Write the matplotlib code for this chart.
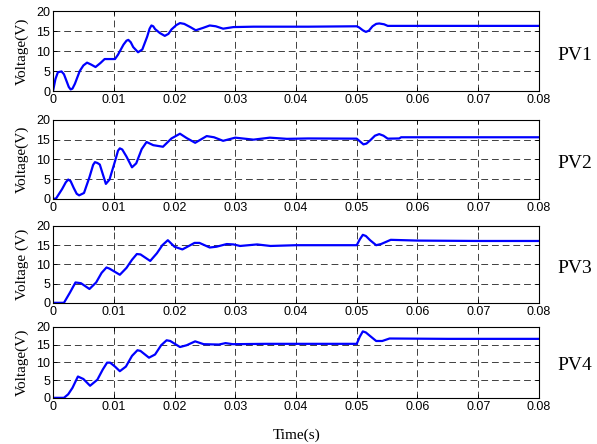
import matplotlib
matplotlib.use("Agg")
import matplotlib.pyplot as plt

# voltage waveforms (time in s, voltage in V)
pv1_t = [0, 0.0004, 0.0008, 0.0014, 0.0018, 0.0022, 0.0026, 0.0029, 0.0032, 0.0036, 0.0044,
         0.0050, 0.0056, 0.0063, 0.0070, 0.0078, 0.0085, 0.0102, 0.0107, 0.0116, 0.0121,
         0.0124, 0.0128, 0.0132, 0.0140, 0.0147, 0.0155, 0.0159, 0.0162, 0.0165, 0.0168,
         0.0176, 0.0184, 0.0190, 0.0195, 0.0203, 0.0209, 0.0216, 0.0226, 0.0235, 0.0247,
         0.0258, 0.0268, 0.0280, 0.0297, 0.0330, 0.0370, 0.0420, 0.0500, 0.0504, 0.0510,
         0.0515, 0.0520, 0.0526, 0.0532, 0.0537, 0.0545, 0.0551, 0.0600, 0.0700, 0.0800]
pv1_v = [0, 3.0, 4.7, 4.9, 4.2, 2.6, 1.0, 0.4, 0.6, 1.8, 5.0,
         6.4, 7.1, 6.6, 6.0, 7.0, 8.0, 8.0, 9.1, 11.6, 12.6,
         12.8, 12.2, 11.0, 9.7, 10.4, 13.6, 15.6, 16.4, 16.2, 15.5,
         14.5, 13.8, 14.3, 15.4, 16.5, 17.0, 16.8, 16.0, 15.2, 15.8,
         16.4, 16.2, 15.6, 16.0, 16.1, 16.1, 16.1, 16.2, 15.9, 15.2,
         14.8, 15.1, 16.2, 16.8, 16.9, 16.7, 16.3, 16.3, 16.3, 16.3]

pv2_t = [0, 0.0005, 0.0015, 0.0021, 0.0025, 0.0029, 0.0034, 0.0039, 0.0043, 0.0051,
         0.0060, 0.0066, 0.0069, 0.0073, 0.0077, 0.0087, 0.0093, 0.0102, 0.0107, 0.0110,
         0.0114, 0.0121, 0.0130, 0.0137, 0.0146, 0.0154, 0.0165, 0.0181, 0.0195, 0.0209,
         0.0220, 0.0234, 0.0253, 0.0265, 0.0280, 0.0300, 0.0330, 0.0357, 0.0385, 0.0420,
         0.0500, 0.0505, 0.0511, 0.0516, 0.0522, 0.0530, 0.0537, 0.0544, 0.0551, 0.0570,
         0.0573, 0.0650, 0.0800]
pv2_v = [0, 0.1, 2.5, 4.2, 4.9, 4.5, 2.8, 1.3, 0.9, 1.5,
         5.5, 8.6, 9.3, 9.1, 8.7, 3.8, 4.9, 9.5, 12.2, 12.8,
         12.5, 10.7, 8.0, 9.0, 12.6, 14.4, 13.6, 13.2, 15.3, 16.5,
         15.4, 14.2, 15.9, 15.6, 14.7, 15.5, 15.0, 15.5, 15.2, 15.3,
         15.25, 14.6, 13.8, 14.0, 14.8, 16.0, 16.4, 16.0, 15.25, 15.3,
         15.6, 15.6, 15.6]

pv3_t = [0, 0.0018, 0.0028, 0.0037, 0.0046, 0.0060, 0.0071, 0.0080, 0.0088, 0.0093,
         0.0110, 0.0121, 0.0130, 0.0138, 0.0144, 0.0160, 0.0171, 0.0180, 0.0189, 0.0200,
         0.0213, 0.0233, 0.0241, 0.0258, 0.0269, 0.0286, 0.0297, 0.0308, 0.0336, 0.0358,
         0.0400, 0.0500, 0.0505, 0.0510, 0.0515, 0.0522, 0.0532, 0.0540, 0.0556, 0.0600,
         0.0700, 0.0800]
pv3_v = [0, 0, 2.7, 5.3, 5.1, 3.6, 5.3, 7.8, 9.2, 8.9,
         7.3, 9.1, 11.2, 12.7, 12.6, 10.9, 12.9, 15.0, 16.3, 14.6,
         13.9, 15.6, 15.6, 14.4, 14.6, 15.3, 15.2, 14.8, 15.2, 14.8,
         15.0, 15.0, 16.5, 17.7, 17.4, 16.3, 15.0, 15.3, 16.4, 16.2,
         16.1, 16.1]

pv4_t = [0, 0.0018, 0.0025, 0.0032, 0.0041, 0.0050, 0.0061, 0.0073, 0.0082, 0.0089,
         0.0094, 0.0102, 0.0110, 0.0120, 0.0130, 0.0139, 0.0144, 0.0158, 0.0168, 0.0178,
         0.0187, 0.0193, 0.0209, 0.0220, 0.0234, 0.0248, 0.0273, 0.0284, 0.0296, 0.0350,
         0.0420, 0.0500, 0.0505, 0.0510, 0.0515, 0.0522, 0.0532, 0.0542, 0.0554, 0.0650,
         0.0800]
pv4_v = [0, 0, 1.0, 2.8, 6.0, 5.3, 3.4, 5.1, 8.0, 9.9,
         9.9, 8.8, 7.5, 8.8, 11.8, 13.4, 13.2, 11.3, 12.2, 14.8,
         16.2, 16.0, 14.3, 14.8, 15.9, 15.1, 15.0, 15.4, 15.1, 15.2,
         15.2, 15.2, 17.2, 18.7, 18.4, 17.4, 16.0, 16.0, 16.7, 16.6,
         16.6]

panels = [(pv1_t, pv1_v, "PV1", "Voltage(V)"), (pv2_t, pv2_v, "PV2", "Voltage(V)"),
          (pv3_t, pv3_v, "PV3", "Voltage (V)"), (pv4_t, pv4_v, "PV4", "Voltage(V)")]

x_ticks = [0, 0.01, 0.02, 0.03, 0.04, 0.05, 0.06, 0.07, 0.08]
x_ticklabels = ["0", "0.01", "0.02", "0.03", "0.04", "0.05", "0.06", "0.07", "0.08"]
y_ticks = [0, 5, 10, 15, 20]

# axes rectangles [left, bottom, width, height] in figure fractions
boxes = [[0.0888, 0.795, 0.814, 0.180],
         [0.0888, 0.552, 0.814, 0.178],
         [0.0888, 0.318, 0.814, 0.173],
         [0.0888, 0.104, 0.814, 0.160]]

serif = ["Liberation Serif", "DejaVu Serif"]
sans = ["Liberation Sans", "DejaVu Sans"]

fig = plt.figure(figsize=(5.97, 4.44), dpi=100)

for (t, v, name, ylab), box in zip(panels, boxes):
    ax = fig.add_axes(box)
    ax.plot(t, v, color="#0000ff", lw=1.6, solid_joinstyle="round")
    ax.set_xlim(0, 0.08)
    ax.set_ylim(0, 20)
    ax.set_xticks(x_ticks)
    ax.set_xticklabels(x_ticklabels, family=sans, fontsize=9)
    ax.set_yticks(y_ticks)
    ax.set_yticklabels([str(y) for y in y_ticks], family=sans, fontsize=9)
    ax.tick_params(direction="in", length=3, width=0.6, top=True, right=True, pad=2)
    ax.grid(True, color="0.25", lw=0.7, linestyle=(0, (7, 4)))
    for s in ax.spines.values():
        s.set_linewidth(0.8)
    ax.set_ylabel(ylab, family=serif, fontsize=11, labelpad=5)
    ax.text(1.037, 0.45, name, transform=ax.transAxes, va="center", ha="left",
            family=serif, fontsize=14)

fig.text(0.497, 0.02, "Time(s)", ha="center", va="center", family=serif, fontsize=11)

fig.savefig("out.png", dpi=100)
